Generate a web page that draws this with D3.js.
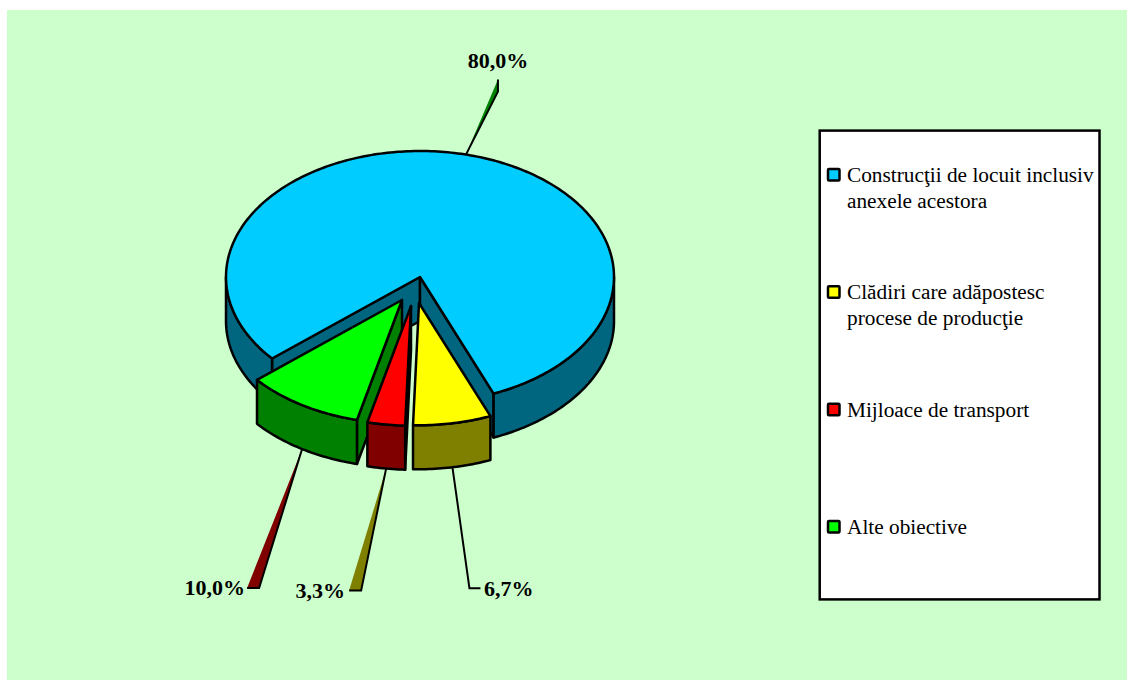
<!DOCTYPE html>
<html>
<head>
<meta charset="utf-8">
<script src="https://cdn.jsdelivr.net/npm/d3@7"></script>
<style>
  html, body { margin: 0; padding: 0; background: #fff; }
  svg { display: block; }
  text { font-family: "Liberation Serif", "Times New Roman", serif; fill: #000; }
</style>
</head>
<body>
<svg id="chart" width="1127" height="680"></svg>
<script>
const categories = [
  "Construcţii de locuit inclusiv anexele acestora",
  "Clădiri care adăpostesc procese de producţie",
  "Mijloace de transport",
  "Alte obiective"
];
const legendLines = [
  ["Construcţii de locuit inclusiv", "anexele acestora"],
  ["Clădiri care adăpostesc", "procese de producţie"],
  ["Mijloace de transport"],
  ["Alte obiective"]
];
const values = [80, 6.7, 3.3, 10];
const topColors = ["#00CCFF", "#FFFF00", "#FF0000", "#00FF00"];
const wallColors = ["#006680", "#808000", "#800000", "#008000"];
// the fill of a leader is the quirk of the original: it takes another slice's colour
const leaderFills = ["#008000", "none", "#808000", "#800000"];

// how far each slice is pulled out, and its radius relative to the pie
const explode = [
  {dx: 0, dy: 0, k: 1},
  {dx: -1, dy: 26, k: 0.97},
  {dx: -9, dy: 29, k: 0.95},
  {dx: -18, dy: 23, k: 0.98}
];
// leader elbow and end relative to the rim point, label anchor at the end
const leaders = [
  {mid: [32, -63], end: [32, -75], label: [498, 68], anchor: "middle"},
  {mid: [17, 121], end: [28, 121], label: [484, 596], anchor: "start"},
  {mid: [-25, 122], end: [-37, 122], label: [345, 598], anchor: "end"},
  {mid: [-43, 139], end: [-55, 139], label: [245, 595], anchor: "end"}
];

const cx = 420, cy = 277, rx = 194, ry = 126, depth = 44;
const deg = Math.PI / 180;
const strokeW = 2.5;

const svg = d3.select("#chart");

svg.append("rect")
  .attr("x", 7).attr("y", 10)
  .attr("width", 1120).attr("height", 670)
  .attr("fill", "#CCFFCC");

// d3.pie gives angles clockwise from the top, same as the original rotation
const pie = d3.pie().sort(null).value(d => d)
  .startAngle(229.7 * deg)
  .endAngle((229.7 + 360) * deg);
const slices = pie(values);

const line = d3.line();

function rim(s, a, drop) {
  const e = explode[s.index];
  return [
    cx + e.dx + rx * e.k * Math.sin(a),
    cy + e.dy + ry * e.k * -Math.cos(a) + (drop || 0)
  ];
}

function arcPoints(s, a0, a1, drop) {
  const n = Math.max(2, Math.ceil((a1 - a0) / deg));
  return d3.range(n + 1).map(i => rim(s, a0 + (a1 - a0) * i / n, drop));
}

function apex(s, drop) {
  const e = explode[s.index];
  return [cx + e.dx, cy + e.dy + (drop || 0)];
}

// parts of a slice where the outer wall faces the viewer (bottom half of the ellipse)
function visibleRanges(a0, a1) {
  const out = [];
  for (let k = 0; k < 2; k++) {
    const lo = Math.max(a0, (90 + 360 * k) * deg);
    const hi = Math.min(a1, (270 + 360 * k) * deg);
    if (hi > lo) out.push([lo, hi]);
  }
  return out;
}

function face(g, pts, fill) {
  g.append("path")
    .attr("d", line(pts) + "Z")
    .attr("fill", fill)
    .attr("stroke", "#000")
    .attr("stroke-width", strokeW)
    .attr("stroke-linejoin", "round");
}

// blue first, then the pulled out slices from left to right
const drawOrder = [0, 3, 2, 1];
drawOrder.forEach(i => {
  const s = slices[i];
  const g = svg.append("g").attr("class", "slice");
  const wall = wallColors[i];

  if (Math.sin(s.startAngle) < 0) {
    face(g, [apex(s), rim(s, s.startAngle), rim(s, s.startAngle, depth), apex(s, depth)], wall);
  }
  if (Math.sin(s.endAngle) > 0) {
    face(g, [apex(s), rim(s, s.endAngle), rim(s, s.endAngle, depth), apex(s, depth)], wall);
  }
  visibleRanges(s.startAngle, s.endAngle).forEach(r => {
    const top = arcPoints(s, r[0], r[1]);
    const bottom = arcPoints(s, r[0], r[1], depth).reverse();
    face(g, top.concat(bottom), wall);
  });
  face(g, [apex(s)].concat(arcPoints(s, s.startAngle, s.endAngle)), topColors[i]);
});

// leaders and percentage labels
const fmt = d3.format(".1f");
slices.forEach((s, i) => {
  const mid = (s.startAngle + s.endAngle) / 2;
  const below = Math.cos(mid) < 0;
  const p = rim(s, mid, below ? depth : 0);
  const l = leaders[i];
  svg.append("path")
    .attr("d", line([p, [p[0] + l.mid[0], p[1] + l.mid[1]], [p[0] + l.end[0], p[1] + l.end[1]]]))
    .attr("fill", leaderFills[i])
    .attr("stroke", "#000")
    .attr("stroke-width", 2);
  svg.append("text")
    .attr("x", l.label[0]).attr("y", l.label[1])
    .attr("text-anchor", l.anchor)
    .attr("font-weight", "bold")
    .attr("font-size", 22)
    .text(fmt(values[i]).replace(".", ",") + "%");
});

// legend
const legend = svg.append("g");
legend.append("rect")
  .attr("x", 819.7).attr("y", 130.6)
  .attr("width", 279.8).attr("height", 468.8)
  .attr("fill", "#fff")
  .attr("stroke", "#000")
  .attr("stroke-width", strokeW);

const legendY = d3.scalePoint()
  .domain(categories)
  .range([174, 526]);

categories.forEach((c, i) => {
  const y = legendY(c);
  legend.append("rect")
    .attr("x", 828).attr("y", y - 5)
    .attr("width", 11.5).attr("height", 11.5)
    .attr("rx", 1)
    .attr("fill", topColors[i])
    .attr("stroke", "#000")
    .attr("stroke-width", 2.5);
  legendLines[i].forEach((t, j) => {
    legend.append("text")
      .attr("x", 847).attr("y", y + 8 + j * 26)
      .attr("font-size", 21.3)
      .text(t);
  });
});
</script>
</body>
</html>
